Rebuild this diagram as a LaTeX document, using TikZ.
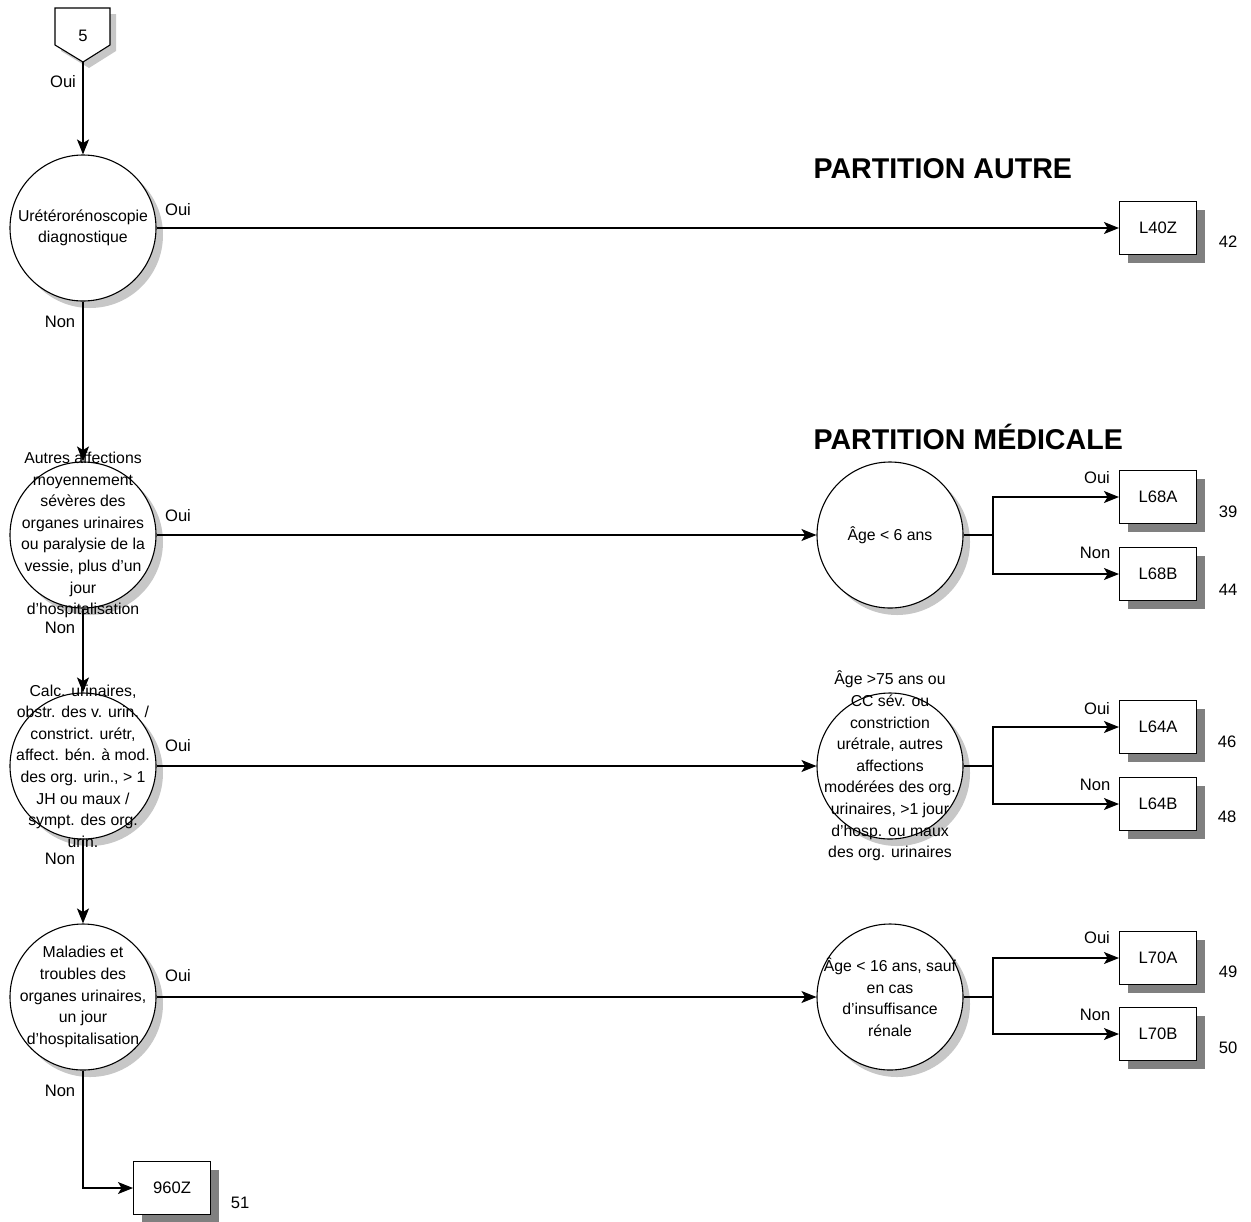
\documentclass[tikz,border=0pt]{standalone}
\usepackage{fontspec}
\setmainfont{Liberation Sans}
\usetikzlibrary{positioning,shadows,arrows.meta}

\tikzset{
  dec/.style={circle, draw, fill=white, minimum size=73pt, inner sep=0pt,
    drop shadow={shadow xshift=3.5pt, shadow yshift=-3.5pt, fill=black!22, opacity=1}},
  txt/.style={align=center, inner sep=0pt, font=\fontsize{7.9}{10.8}\selectfont},
  grp/.style={rectangle, draw, fill=white, minimum width=38.5pt, minimum height=26.5pt, inner sep=0pt,
    drop shadow={shadow xshift=4pt, shadow yshift=-4pt, fill=black!50, opacity=1}},
  lbl/.style={inner sep=0pt},
  title/.style={anchor=west, inner sep=0pt, font=\fontsize{14.3}{16}\selectfont\bfseries}
}

\begin{document}
\begin{tikzpicture}[x=0.5pt, y=-0.5pt, line width=0.55pt,
  >={Stealth[length=7.5pt,width=6pt,inset=1.8pt]},
  font=\fontsize{8.3}{10.8}\selectfont]
\useasboundingbox (0,0) rectangle (1251,1221);

% entry point
\fill[black!22, shift={(6,6)}] (55,8) -- (110,8) -- (110,45) -- (83,62) -- (55,45) -- cycle;
\draw[fill=white] (55,8) -- (110,8) -- (110,45) -- (83,62) coordinate (in) -- (55,45) -- cycle;
\node[lbl] (p5) at (83,36) {5};

% titles
\node[title] (t1) at (813,169) {PARTITION AUTRE};
\node[title] (t2) at (813,437) {PARTITION MÉDICALE};

% questions
\node[dec] (q1) at (83,228) {};
\node[dec] (q2) at (83,535) {};
\node[dec] (q3) at (83,766) {};
\node[dec] (q4) at (83,997) {};
\node[dec] (r2) at (890,535) {};
\node[dec] (r3) at (890,766) {};
\node[dec] (r4) at (890,997) {};

\node[txt] (q1t) at (q1) {Urétérorénoscopie\\diagnostique};
\node[txt] (q2t) at (q2) {Autres affections\\moyennement\\sévères des\\organes urinaires\\ou paralysie de la\\vessie, plus d’un\\jour\\d’hospitalisation};
\node[txt] (q3t) at (q3) {Calc. urinaires,\\obstr. des v. urin. /\\constrict. urétr,\\affect. bén. à mod.\\des org. urin., > 1\\JH ou maux /\\sympt. des org.\\urin.};
\node[txt] (q4t) at (q4) {Maladies et\\troubles des\\organes urinaires,\\un jour\\d’hospitalisation};
\node[txt] (r2t) at (r2) {Âge < 6 ans};
\node[txt] (r3t) at (r3) {Âge >75 ans ou\\CC sév. ou\\constriction\\urétrale, autres\\affections\\modérées des org.\\urinaires, >1 jour\\d’hosp. ou maux\\des org. urinaires};
\node[txt] (r4t) at (r4) {Âge < 16 ans, sauf\\en cas\\d’insuffisance\\rénale};

% groups
\node[grp] (l40z) at (1158,228) {L40Z};
\node[grp] (l68a) at (1158,497) {L68A};
\node[grp] (l68b) at (1158,574) {L68B};
\node[grp] (l64a) at (1158,727) {L64A};
\node[grp] (l64b) at (1158,804) {L64B};
\node[grp] (l70a) at (1158,958) {L70A};
\node[grp] (l70b) at (1158,1034) {L70B};
\node[grp] (z960) at (172,1188) {960Z};

\foreach \x/\y/\t [count=\i] in {1228/242/42, 1228/512/39, 1228/590/44, 1227/742/46,
  1227/817/48, 1228/972/49, 1228/1048/50, 240/1203/51}
  \node[lbl] (num\i) at (\x,\y) {\t};

% branch points
\coordinate (b2) at (993,535);
\coordinate (b3) at (993,766);
\coordinate (b4) at (993,997);

% connectors
\draw[->] (in) -- (q1);
\draw[->] (q1) -- (l40z);
\draw[->] (q1) -- (q2);
\draw[->] (q2) -- (r2);
\draw[->] (q2) -- (q3);
\draw[->] (q3) -- (r3);
\draw[->] (q3) -- (q4);
\draw[->] (q4) -- (r4);
\draw[->] (q4) |- (z960);

\draw (r2) -- (b2);
\draw[->] (b2) |- (l68a);
\draw[->] (b2) |- (l68b);
\draw (r3) -- (b3);
\draw[->] (b3) |- (l64a);
\draw[->] (b3) |- (l64b);
\draw (r4) -- (b4);
\draw[->] (b4) |- (l70a);
\draw[->] (b4) |- (l70b);

% answers
\foreach \x/\y/\t [count=\i] in {63/82/Oui, 178/210/Oui, 60/322/Non, 178/516/Oui, 60/628/Non,
  178/746/Oui, 60/859/Non, 178/976/Oui, 60/1091/Non,
  1097/478/Oui, 1095/553/Non, 1097/709/Oui, 1095/785/Non, 1097/938/Oui, 1095/1015/Non}
  \node[lbl] (ans\i) at (\x,\y) {\t};
\end{tikzpicture}
\end{document}
